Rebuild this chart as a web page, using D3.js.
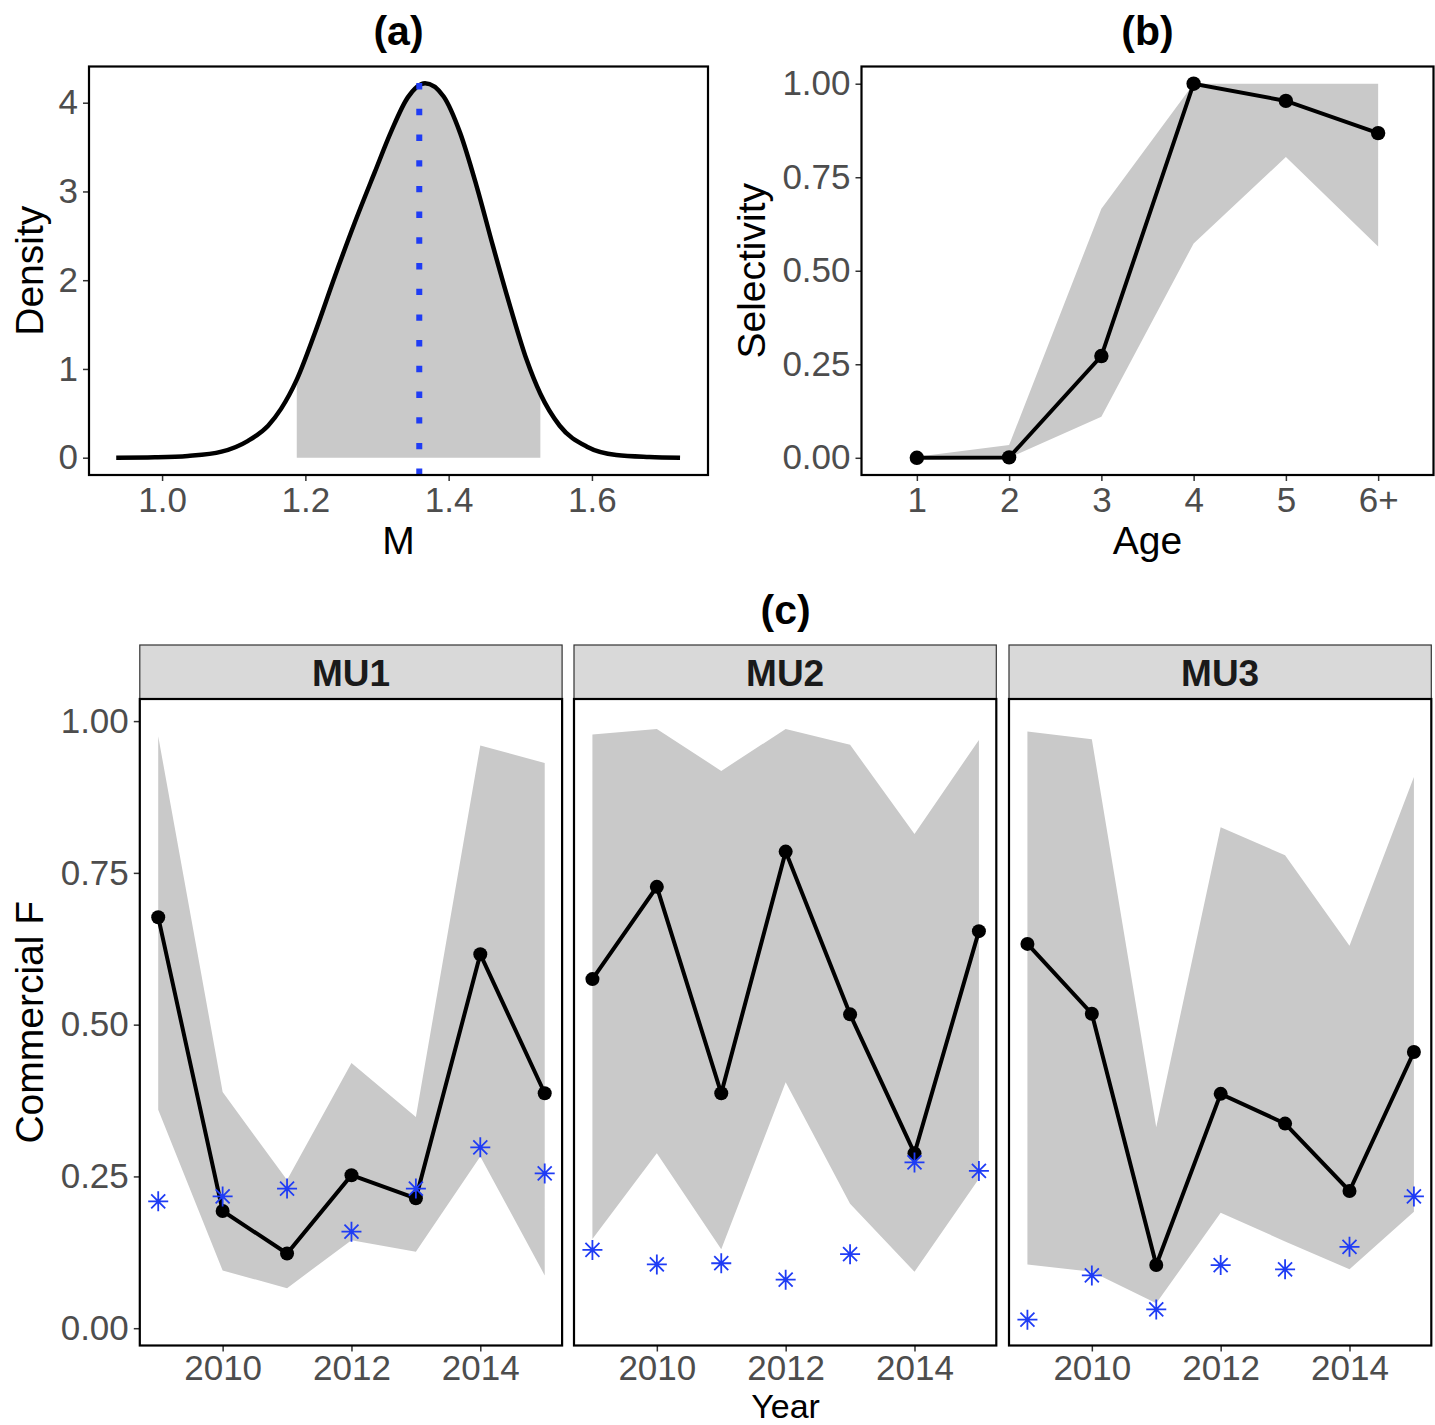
<!DOCTYPE html>
<html>
<head>
<meta charset="utf-8">
<script src="https://cdn.jsdelivr.net/npm/d3@7"></script>
<style>
  body { margin: 0; background: #fff; }
  text { font-family: 'Liberation Sans', Arial, sans-serif; }
</style>
</head>
<body>
<svg id="chart"></svg>
<script>
// (a) posterior density of M
const densityM = [0.936, 0.99, 1.036, 1.083, 1.120, 1.148, 1.166, 1.188, 1.213, 1.241, 1.269, 1.297, 1.320, 1.343,
    1.367, 1.393, 1.416, 1.439, 1.462, 1.486, 1.509, 1.528, 1.555, 1.593, 1.634, 1.68, 1.723];
const densityValue = [0, 0.005, 0.02, 0.068, 0.19, 0.36, 0.55, 0.88, 1.40, 2.04, 2.65, 3.22, 3.68, 4.06,
    4.22, 4.07, 3.66, 3.06, 2.38, 1.70, 1.10, 0.72, 0.36, 0.124, 0.03, 0.008, 0];
const intervalM = [1.188, 1.528];
const medianM = 1.359;
const mTicks = [1.0, 1.2, 1.4, 1.6];
const densityTicks = [0, 1, 2, 3, 4];

// (b) selectivity at age
const ages = ['1', '2', '3', '4', '5', '6+'];
const selEst = [0, 0.001, 0.272, 1.0, 0.954, 0.868];
const selLow = [0, 0, 0.11, 0.573, 0.804, 0.565];
const selHigh = [0.003, 0.034, 0.666, 1.0, 1.0, 1.0];
const selTicks = [0, 0.25, 0.5, 0.75, 1];

// (c) commercial F by management unit
const years = [2009, 2010, 2011, 2012, 2013, 2014, 2015];
const units = ['MU1', 'MU2', 'MU3'];
const mu1Est = [0.677, 0.193, 0.123, 0.252, 0.214, 0.616, 0.387];
const mu1Low = [0.360, 0.095, 0.066, 0.145, 0.126, 0.283, 0.087];
const mu1High = [0.975, 0.389, 0.244, 0.437, 0.348, 0.960, 0.931];
const mu1Obs = [0.209, 0.217, 0.230, 0.159, 0.230, 0.298, 0.255];
const mu2Est = [0.575, 0.727, 0.387, 0.785, 0.517, 0.288, 0.654];
const mu2Low = [0.147, 0.288, 0.130, 0.405, 0.205, 0.093, 0.246];
const mu2High = [0.978, 0.987, 0.918, 0.987, 0.961, 0.814, 0.969];
const mu2Obs = [0.129, 0.105, 0.107, 0.080, 0.122, 0.273, 0.259];
const mu3Est = [0.633, 0.518, 0.104, 0.386, 0.337, 0.226, 0.455];
const mu3Low = [0.105, 0.093, 0.041, 0.190, 0.143, 0.097, 0.192];
const mu3High = [0.983, 0.970, 0.331, 0.825, 0.779, 0.630, 0.908];
const mu3Obs = [0.014, 0.087, 0.031, 0.104, 0.097, 0.134, 0.217];
const fTicks = [0, 0.25, 0.5, 0.75, 1];
const yearTicks = [2010, 2012, 2014];

const width = 1435;
const height = 1425;
const tickColor = '#4d4d4d';
const ribbonColor = '#c9c9c9';
const blue = '#1f3cf5';

const boxA = { left: 89, right: 708, top: 66.5, bottom: 475 };
const boxB = { left: 861.5, right: 1433.5, top: 66.5, bottom: 475 };
const facetLefts = [139.8, 574, 1009];
const facetWidth = 422.3;
const stripTop = 645;
const facetTop = 699;
const facetBottom = 1345.5;

const svg = d3.select('#chart')
    .attr('width', width)
    .attr('height', height);

function styleAxis(g) {
    g.select('.domain').remove();
    g.selectAll('.tick line').attr('stroke', '#333').attr('stroke-width', 1.5);
    g.selectAll('.tick text')
        .attr('fill', tickColor)
        .style('font-size', '35px')
        .style('font-family', "'Liberation Sans', Arial, sans-serif");
}

function frame(b) {
    svg.append('rect')
        .attr('x', b.left).attr('y', b.top)
        .attr('width', b.right - b.left).attr('height', b.bottom - b.top)
        .attr('fill', 'none').attr('stroke', '#000').attr('stroke-width', 2.2);
}

function title(text, x, y) {
    svg.append('text').attr('x', x).attr('y', y)
        .attr('text-anchor', 'middle')
        .style('font-size', '41px').style('font-weight', 'bold')
        .text(text);
}

function xTitle(text, x, y, size) {
    svg.append('text').attr('x', x).attr('y', y)
        .attr('text-anchor', 'middle').style('font-size', (size || 39) + 'px')
        .text(text);
}

function yTitle(text, x, y) {
    svg.append('text')
        .attr('transform', `translate(${x}, ${y}) rotate(-90)`)
        .attr('text-anchor', 'middle').style('font-size', '39px')
        .text(text);
}

// ---------- (a) ----------
const xA = d3.scaleLinear().domain([0.898, 1.762]).range([boxA.left, boxA.right]);
const yA = d3.scaleLinear().domain([-0.195, 4.408]).range([boxA.bottom, boxA.top]);
const density = densityM.map((m, i) => ({ m: m, d: densityValue[i] }));
const shaded = density.filter(p => p.m >= intervalM[0] && p.m <= intervalM[1]);

svg.append('path')
    .datum(shaded)
    .attr('fill', ribbonColor)
    .attr('d', d3.area().x(p => xA(p.m)).y0(yA(0)).y1(p => yA(p.d)).curve(d3.curveMonotoneX));

svg.append('path')
    .datum(density)
    .attr('fill', 'none').attr('stroke', '#000').attr('stroke-width', 4.5)
    .attr('d', d3.line().x(p => xA(p.m)).y(p => yA(p.d)).curve(d3.curveMonotoneX));

svg.append('line')
    .attr('x1', xA(medianM)).attr('x2', xA(medianM))
    .attr('y1', boxA.bottom).attr('y2', boxA.top)
    .attr('stroke', blue).attr('stroke-width', 6)
    .attr('stroke-dasharray', '6.4 19.3');

svg.append('g').attr('transform', `translate(0, ${boxA.bottom})`)
    .call(d3.axisBottom(xA).tickValues(mTicks).tickSize(6).tickPadding(6).tickFormat(d3.format('.1f')))
    .call(styleAxis);
svg.append('g').attr('transform', `translate(${boxA.left}, 0)`)
    .call(d3.axisLeft(yA).tickValues(densityTicks).tickSize(6).tickPadding(5).tickFormat(d3.format('d')))
    .call(styleAxis);
frame(boxA);
title('(a)', (boxA.left + boxA.right) / 2, 44.6);
xTitle('M', (boxA.left + boxA.right) / 2, 554);
yTitle('Density', 43, (boxA.top + boxA.bottom) / 2);

// ---------- (b) ----------
const xB = d3.scalePoint().domain(ages).range([boxB.left, boxB.right]).padding(0.6);
const yB = d3.scaleLinear().domain([-0.046, 1.046]).range([boxB.bottom, boxB.top]);
const sel = ages.map((a, i) => ({ age: a, est: selEst[i], low: selLow[i], high: selHigh[i] }));

svg.append('path')
    .datum(sel)
    .attr('fill', ribbonColor)
    .attr('d', d3.area().x(d => xB(d.age)).y0(d => yB(d.low)).y1(d => yB(d.high)));
svg.append('path')
    .datum(sel)
    .attr('fill', 'none').attr('stroke', '#000').attr('stroke-width', 4)
    .attr('d', d3.line().x(d => xB(d.age)).y(d => yB(d.est)));
svg.append('g').selectAll('circle').data(sel).enter().append('circle')
    .attr('cx', d => xB(d.age)).attr('cy', d => yB(d.est)).attr('r', 7.2).attr('fill', '#000');

svg.append('g').attr('transform', `translate(0, ${boxB.bottom})`)
    .call(d3.axisBottom(xB).tickSize(6).tickPadding(6))
    .call(styleAxis);
svg.append('g').attr('transform', `translate(${boxB.left}, 0)`)
    .call(d3.axisLeft(yB).tickValues(selTicks).tickSize(6).tickPadding(5).tickFormat(d3.format('.2f')))
    .call(styleAxis);
frame(boxB);
title('(b)', (boxB.left + boxB.right) / 2, 44.6);
xTitle('Age', (boxB.left + boxB.right) / 2, 554);
yTitle('Selectivity', 765, (boxB.top + boxB.bottom) / 2);

// ---------- (c) ----------
const seriesC = [
    { est: mu1Est, low: mu1Low, high: mu1High, obs: mu1Obs },
    { est: mu2Est, low: mu2Low, high: mu2High, obs: mu2Obs },
    { est: mu3Est, low: mu3Low, high: mu3High, obs: mu3Obs }
];
const yC = d3.scaleLinear().domain([-0.0285, 1.0364]).range([facetBottom, facetTop]);

// asterisk like R pch 8: a plus over a cross
function asterisk(px, py) {
    const p = d3.path();
    const r = 10, q = 7;
    p.moveTo(px - r, py); p.lineTo(px + r, py);
    p.moveTo(px, py - r); p.lineTo(px, py + r);
    p.moveTo(px - q, py - q); p.lineTo(px + q, py + q);
    p.moveTo(px - q, py + q); p.lineTo(px + q, py - q);
    return p.toString();
}

units.forEach((unit, k) => {
    const left = facetLefts[k];
    const box = { left: left, right: left + facetWidth, top: facetTop, bottom: facetBottom };
    const xC = d3.scaleLinear().domain([2008.714, 2015.27]).range([box.left, box.right]);
    const s = seriesC[k];
    const rows = years.map((yr, i) => ({ year: yr, est: s.est[i], low: s.low[i], high: s.high[i], obs: s.obs[i] }));

    // strip
    svg.append('rect')
        .attr('x', box.left).attr('y', stripTop)
        .attr('width', facetWidth).attr('height', facetTop - stripTop)
        .attr('fill', '#d9d9d9').attr('stroke', '#333').attr('stroke-width', 1.2);
    svg.append('text')
        .attr('x', (box.left + box.right) / 2).attr('y', 685.5)
        .attr('text-anchor', 'middle')
        .style('font-size', '37px').style('font-weight', 'bold').attr('fill', '#1a1a1a')
        .text(unit);

    svg.append('path')
        .datum(rows)
        .attr('fill', ribbonColor)
        .attr('d', d3.area().x(d => xC(d.year)).y0(d => yC(d.low)).y1(d => yC(d.high)));
    svg.append('path')
        .datum(rows)
        .attr('fill', 'none').attr('stroke', '#000').attr('stroke-width', 4)
        .attr('d', d3.line().x(d => xC(d.year)).y(d => yC(d.est)));
    svg.append('g').selectAll('circle').data(rows).enter().append('circle')
        .attr('cx', d => xC(d.year)).attr('cy', d => yC(d.est)).attr('r', 7).attr('fill', '#000');
    svg.append('g').selectAll('path').data(rows).enter().append('path')
        .attr('d', d => asterisk(xC(d.year), yC(d.obs)))
        .attr('fill', 'none').attr('stroke', blue).attr('stroke-width', 1.8);

    svg.append('g').attr('transform', `translate(0, ${box.bottom})`)
        .call(d3.axisBottom(xC).tickValues(yearTicks).tickSize(6).tickPadding(4).tickFormat(d3.format('d')))
        .call(styleAxis);
    if (k === 0) {
        svg.append('g').attr('transform', `translate(${box.left}, 0)`)
            .call(d3.axisLeft(yC).tickValues(fTicks).tickSize(6).tickPadding(5).tickFormat(d3.format('.2f')))
            .call(styleAxis);
    }
    frame(box);
});

title('(c)', (facetLefts[0] + facetLefts[2] + facetWidth) / 2, 624);
xTitle('Year', (facetLefts[0] + facetLefts[2] + facetWidth) / 2, 1418, 34);
yTitle('Commercial F', 43, (facetTop + facetBottom) / 2);
</script>
</body>
</html>
